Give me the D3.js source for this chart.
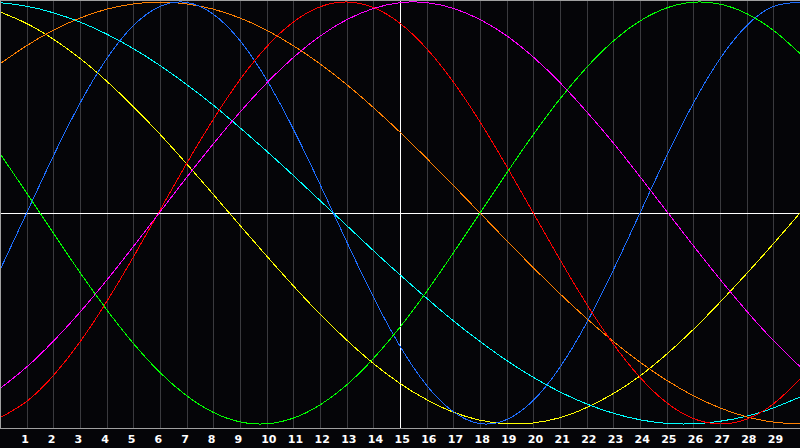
<!DOCTYPE html>
<html>
<head>
<meta charset="utf-8">
<script src="https://cdn.jsdelivr.net/npm/d3@7"></script>
<style>
  html, body { margin: 0; padding: 0; background: #050508; }
  svg { display: block; }
</style>
</head>
<body>
<svg id="chart"></svg>
<script>
const xs = [0, 1, 2, 3, 4, 5, 6, 7, 8, 9, 10, 11, 12, 13, 14, 15, 16, 17, 18, 19, 20, 21, 22, 23, 24, 25, 26, 27, 28, 29, 30];
const tickLabels = [1, 2, 3, 4, 5, 6, 7, 8, 9, 10, 11, 12, 13, 14, 15, 16, 17, 18, 19, 20, 21, 22, 23, 24, 25, 26, 27, 28, 29];

const yellow = [0.953, 0.898, 0.824, 0.733, 0.625, 0.504, 0.373, 0.233, 0.088, -0.059, -0.204, -0.345, -0.479, -0.602, -0.713, -0.808, -0.885, -0.944, -0.982, -0.999, -0.995, -0.970, -0.922, -0.856, -0.772, -0.669, -0.552, -0.423, -0.287, -0.146, 0.000];
const cyan = [0.997, 0.980, 0.949, 0.905, 0.848, 0.779, 0.699, 0.609, 0.511, 0.404, 0.293, 0.178, 0.059, -0.059, -0.178, -0.293, -0.404, -0.511, -0.609, -0.699, -0.779, -0.848, -0.905, -0.949, -0.980, -0.997, -0.999, -0.987, -0.963, -0.924, -0.872];
const orange = [0.707, 0.793, 0.866, 0.924, 0.966, 0.991, 1.000, 0.991, 0.966, 0.924, 0.866, 0.793, 0.707, 0.609, 0.500, 0.383, 0.259, 0.131, 0.000, -0.131, -0.259, -0.383, -0.500, -0.609, -0.707, -0.793, -0.866, -0.924, -0.966, -0.991, -1.000];
const blue = [-0.270, 0.000, 0.270, 0.520, 0.731, 0.888, 0.979, 0.998, 0.942, 0.817, 0.631, 0.398, 0.136, -0.136, -0.398, -0.631, -0.817, -0.942, -0.998, -0.979, -0.888, -0.731, -0.520, -0.270, 0.000, 0.270, 0.520, 0.731, 0.888, 0.979, 0.998];
const red = [-0.970, -0.893, -0.771, -0.611, -0.420, -0.209, 0.013, 0.235, 0.444, 0.632, 0.788, 0.905, 0.977, 1.000, 0.974, 0.899, 0.779, 0.621, 0.432, 0.221, 0.000, -0.221, -0.432, -0.621, -0.779, -0.899, -0.974, -1.000, -0.977, -0.905, -0.788];
const magenta = [-0.832, -0.730, -0.608, -0.470, -0.319, -0.159, 0.005, 0.169, 0.328, 0.478, 0.616, 0.737, 0.838, 0.916, 0.969, 0.997, 0.997, 0.970, 0.917, 0.840, 0.739, 0.618, 0.480, 0.332, 0.172, 0.008, -0.155, -0.314, -0.465, -0.604, -0.728];
const green = [0.282, 0.095, -0.095, -0.282, -0.458, -0.618, -0.756, -0.866, -0.945, -0.990, -0.999, -0.972, -0.910, -0.815, -0.690, -0.541, -0.372, -0.189, 0.000, 0.189, 0.372, 0.541, 0.690, 0.815, 0.910, 0.972, 0.999, 0.990, 0.945, 0.866, 0.756];

const series = [
  { name: "yellow", color: "#ffff00", values: yellow },
  { name: "cyan", color: "#00ffff", values: cyan },
  { name: "orange", color: "#ff8000", values: orange },
  { name: "blue", color: "#1e6eff", values: blue },
  { name: "red", color: "#ff0000", values: red },
  { name: "magenta", color: "#ff00ff", values: magenta },
  { name: "green", color: "#00ff00", values: green }
];

const width = 800;
const height = 448;
const plotBottom = 428;

const svg = d3.select("#chart")
  .attr("width", width)
  .attr("height", height)
  .style("background", "#050508");

const x = d3.scaleLinear().domain([0, 30]).range([0, width]);
const y = d3.scaleLinear().domain([-1, 1]).range([424, 2]);

// vertical grid lines
svg.append("g")
  .attr("class", "grid")
  .attr("shape-rendering", "crispEdges")
  .selectAll("line")
  .data(tickLabels)
  .join("line")
  .attr("x1", d => Math.round(x(d)) + 0.5)
  .attr("x2", d => Math.round(x(d)) + 0.5)
  .attr("y1", 0)
  .attr("y2", plotBottom)
  .attr("stroke", "#3a3a3e")
  .attr("stroke-width", 1);

// white cross lines
svg.append("line")
  .attr("shape-rendering", "crispEdges")
  .attr("x1", 0).attr("x2", width)
  .attr("y1", Math.round(y(0)) + 0.5).attr("y2", Math.round(y(0)) + 0.5)
  .attr("stroke", "#ffffff");
svg.append("line")
  .attr("shape-rendering", "crispEdges")
  .attr("x1", Math.round(x(15)) + 0.5).attr("x2", Math.round(x(15)) + 0.5)
  .attr("y1", 0).attr("y2", plotBottom)
  .attr("stroke", "#ffffff");

// curves
const line = d3.line()
  .x((d, i) => x(xs[i]))
  .y(d => y(d))
  .curve(d3.curveNatural);

svg.append("g")
  .attr("class", "plot-area")
  .selectAll("path")
  .data(series)
  .join("path")
  .attr("fill", "none")
  .attr("stroke", d => d.color)
  .attr("stroke-width", 1)
  .attr("shape-rendering", "crispEdges")
  .attr("d", d => line(d.values));

// frame
svg.append("path")
  .attr("shape-rendering", "crispEdges")
  .attr("fill", "none")
  .attr("stroke", "#a0a0a0")
  .attr("d", `M0.5,${plotBottom + 0.5}V0.5H${width}`);
svg.append("line")
  .attr("shape-rendering", "crispEdges")
  .attr("x1", 0).attr("x2", width)
  .attr("y1", plotBottom + 0.5).attr("y2", plotBottom + 0.5)
  .attr("stroke", "#a0a0a0");

// x axis labels
const xAxis = d3.axisBottom(x)
  .tickValues(tickLabels)
  .tickSize(0)
  .tickPadding(0);

const axisG = svg.append("g")
  .attr("class", "x-axis")
  .attr("transform", `translate(0,${plotBottom})`)
  .call(xAxis)
  .call(g => g.select(".domain").remove());

axisG.selectAll("text")
  .attr("fill", "#ffffff")
  .attr("font-family", "DejaVu Sans")
  .attr("font-weight", "bold")
  .attr("font-size", 11)
  .attr("text-anchor", "start")
  .attr("dx", -6)
  .attr("y", 15)
  .attr("dy", 0);
</script>
</body>
</html>
